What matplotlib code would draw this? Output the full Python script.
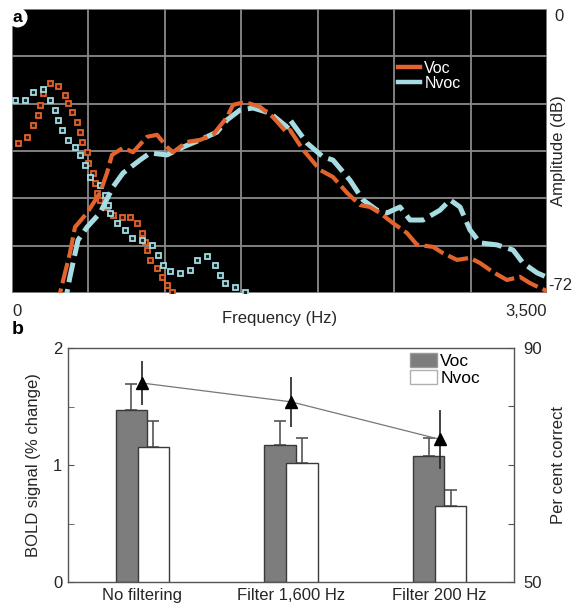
import numpy as np
import matplotlib
matplotlib.use("Agg")
import matplotlib.pyplot as plt
from matplotlib.lines import Line2D
from matplotlib.patches import Patch

plt.rcParams['font.family'] = ['Liberation Sans', 'DejaVu Sans']

# ---------------- Panel a data (Hz, dB) ----------------
voc_line_f = [290, 314, 379, 412, 491, 576, 621, 654, 726, 792, 883, 949, 1014, 1053, 1145, 1230,
              1315, 1407, 1446, 1524, 1622, 1707, 1799, 1819, 1904, 2015, 2100, 2192, 2277, 2342,
              2407, 2493, 2584, 2650, 2754, 2820, 2911, 2996, 3062, 3147, 3238, 3323, 3389, 3454, 3500]
voc_line_db = [-76, -72, -61.9, -55.3, -51.7, -46.6, -41.6, -37.0, -35.2, -36.3, -32.4, -31.9, -35.0,
               -36.3, -33.7, -33.2, -31.9, -27.4, -24.3, -23.6, -24.8, -27.4, -31.4, -30.7, -35.7,
               -40.8, -42.6, -46.6, -49.7, -50.2, -51.7, -54.3, -56.8, -59.8, -60.3, -61.9, -63.6,
               -63.1, -64.4, -66.7, -68.7, -67.9, -69.5, -70.7, -71.5]

nvoc_line_f = [340, 379, 432, 491, 576, 661, 726, 837, 903, 1014, 1119, 1230, 1341, 1407, 1492, 1577,
               1688, 1799, 1819, 1930, 2035, 2100, 2211, 2296, 2388, 2453, 2538, 2604, 2689, 2800,
               2866, 2931, 2996, 3062, 3173, 3278, 3343, 3435, 3500]
nvoc_line_db = [-76, -67.9, -58.6, -55.3, -51.7, -45.1, -41.6, -38.3, -36.5, -37.0, -35.0, -33.2,
                -31.2, -28.1, -25.6, -25.1, -26.4, -29.9, -28.1, -34.0, -37.5, -38.3, -43.4, -48.4,
                -51.0, -51.7, -50.2, -53.5, -53.5, -51.0, -48.4, -50.2, -56.0, -59.3, -59.8, -61.1,
                -64.4, -66.9, -68.0]

voc_sq_f = [39, 98, 137, 170, 183, 203, 249, 301, 347, 366, 393, 425, 445, 458, 491, 497, 530, 543,
            556, 576, 621, 661, 720, 772, 818, 850, 870, 883, 903, 949, 981, 1014, 1047]
voc_sq_db = [-34.0, -32.4, -29.4, -26.9, -24.3, -21.3, -18.8, -19.5, -21.8, -23.8, -26.1, -28.6,
             -31.2, -33.7, -36.3, -39.0, -41.6, -44.1, -46.6, -48.4, -50.2, -52.2, -52.7, -52.7,
             -54.3, -56.8, -59.1, -61.1, -63.6, -65.7, -67.9, -70.0, -71.7]

nvoc_sq_f = [20, 85, 137, 203, 249, 281, 301, 327, 366, 412, 445, 478, 510, 576, 608, 628, 641, 687,
             739, 785, 850, 916, 955, 988, 1034, 1099, 1164, 1210, 1276, 1328, 1361, 1393, 1459, 1524]
nvoc_sq_db = [-23.1, -23.1, -21.0, -20.3, -23.1, -25.6, -28.1, -30.7, -33.2, -35.0, -37.0, -39.5,
              -42.6, -44.6, -47.2, -49.7, -51.7, -54.3, -56.0, -58.1, -58.6, -59.8, -62.4, -64.9,
              -66.4, -66.9, -66.2, -63.6, -62.6, -64.9, -67.4, -69.5, -70.5, -71.7]

# ---------------- Panel b data ----------------
conditions = ['No filtering', 'Filter 1,600 Hz', 'Filter 200 Hz']
bold_voc = [1.47, 1.17, 1.08]
bold_voc_err = [0.22, 0.21, 0.15]
bold_nvoc = [1.155, 1.02, 0.65]
bold_nvoc_err = [0.22, 0.21, 0.14]
pct_correct = [84.0, 80.8, 74.4]
pct_err = [3.8, 4.3, 5.0]

ORANGE = '#e2642c'
BLUE = '#a6dce2'
TXT = '#262626'

fig = plt.figure(figsize=(5.76, 6.08), dpi=100)

# ================= Panel a =================
axa = fig.add_axes([12/576, 1-293/608, 535/576, 284/608])
axa.set_facecolor('black')
axa.set_xlim(0, 3500)
axa.set_ylim(-72, 0)
axa.set_xticks(np.arange(0, 3501, 500))
axa.set_yticks(np.arange(-72, 1, 12))
axa.grid(True, color='#8a8a8a', linewidth=1.3)
axa.set_axisbelow(True)
axa.tick_params(length=0, labelsize=12, colors=TXT)
xl = ['' for _ in range(8)]
xl[0] = '0'
xl[-1] = '3,500'
axa.set_xticklabels(xl)
axa.yaxis.tick_right()
yl = ['' for _ in range(7)]
yl[0] = '-72'
yl[-1] = '0'
axa.set_yticklabels(yl)
for lab in axa.get_xticklabels():
    if lab.get_text() == '0':
        lab.set_horizontalalignment('left')
    elif lab.get_text() == '3,500':
        lab.set_horizontalalignment('right')
for lab in axa.get_yticklabels():
    if lab.get_text() == '0':
        lab.set_verticalalignment('top')
        lab.set_x(1.012)
    elif lab.get_text() == '-72':
        lab.set_verticalalignment('bottom')
axa.tick_params(axis='x', pad=8)
axa.tick_params(axis='y', pad=1)
for s in axa.spines.values():
    s.set_visible(False)

axa.plot(voc_sq_f, voc_sq_db, linestyle='none', marker='s', markersize=3.6,
         mfc='#3a1508', mec=ORANGE, mew=1.3, clip_on=True, zorder=3)
axa.plot(nvoc_sq_f, nvoc_sq_db, linestyle='none', marker='s', markersize=3.6,
         mfc='#15282a', mec=BLUE, mew=1.3, clip_on=True, zorder=3)
axa.plot(nvoc_line_f, nvoc_line_db, color=BLUE, linewidth=3.6,
         linestyle=(0, (4, 1.4)), zorder=4)
axa.plot(voc_line_f, voc_line_db, color=ORANGE, linewidth=3.0,
         linestyle=(0, (5, 1.3)), zorder=5)

handles = [Line2D([], [], color=ORANGE, lw=3.2), Line2D([], [], color=BLUE, lw=3.2)]
leg = axa.legend(handles, ['Voc', 'Nvoc'], loc='upper left',
                 bbox_to_anchor=((398-12)/535, 1-(61-9)/284), frameon=False,
                 fontsize=11.5, handlelength=1.4, handletextpad=0.25, labelspacing=0.0,
                 borderpad=0, borderaxespad=0)
for t in leg.get_texts():
    t.set_color('white')

axa.set_xlabel('Frequency (Hz)', fontsize=12, color=TXT, labelpad=-6)
fig.text(559/576, 1-151/608, 'Amplitude (dB)', rotation=90, fontsize=12, color=TXT,
         ha='center', va='center')

axa.text(0.0105, 0.97, 'a', transform=axa.transAxes, ha='center', va='center',
         fontsize=12.5, fontweight='bold', color='black',
         bbox=dict(boxstyle='circle,pad=0.1', fc='white', ec='white'), zorder=10)

# ================= Panel b =================
axb = fig.add_axes([68/576, 1-582/608, 446/576, 234/608])
x = np.arange(len(conditions))
w = 0.21
off = 0.074
axb.bar(x - off, bold_voc, width=w, color='#7d7d7d', edgecolor='#3a3a3a', linewidth=1.0, zorder=2)
axb.errorbar(x - off, bold_voc, yerr=[np.zeros(3), bold_voc_err], fmt='none',
             ecolor='#555555', elinewidth=1.2, capsize=4, capthick=1.2, zorder=1)
axb.bar(x + off, bold_nvoc, width=w, color='white', edgecolor='#3a3a3a', linewidth=1.0, zorder=3)
axb.errorbar(x + off, bold_nvoc, yerr=[np.zeros(3), bold_nvoc_err], fmt='none',
             ecolor='#555555', elinewidth=1.2, capsize=4, capthick=1.2, zorder=1)
axb.set_xlim(-0.5, 2.5)
axb.set_ylim(0, 2)
axb.set_yticks([0, 1, 2])
axb.set_yticks([0.5, 1.5], minor=True)
axb.set_xticks(x)
axb.set_xticklabels(conditions)
axb.tick_params(axis='x', length=0, labelsize=12, pad=4, colors=TXT)
axb.tick_params(axis='y', which='both', direction='in', labelsize=12, colors='#555555',
                labelcolor=TXT, length=4, pad=4)
axb.set_ylabel('BOLD signal (% change)', fontsize=12, color=TXT, labelpad=9)
for s in axb.spines.values():
    s.set_color('#555555')
    s.set_linewidth(1.0)

legb = axb.legend([Patch(fc='#7d7d7d', ec='#9a9a9a'), Patch(fc='white', ec='#b0b0b0')],
                  ['Voc', 'Nvoc'], loc='upper left',
                  bbox_to_anchor=((410-68)/446, 1-(353-348)/234), frameon=False,
                  fontsize=12.5, handlelength=1.55, handleheight=0.9, handletextpad=0.2,
                  labelspacing=0.05, borderpad=0, borderaxespad=0)

axr = axb.twinx()
axr.set_ylim(50, 90)
axr.set_yticks([50, 60, 70, 80, 90])
axr.set_yticklabels(['50', '', '', '', '90'])
axr.tick_params(axis='y', direction='in', labelsize=12, colors='#555555',
                labelcolor=TXT, length=4, pad=7)
axr.set_ylabel('Per cent correct', fontsize=12, color=TXT, labelpad=6)
for s in axr.spines.values():
    s.set_visible(False)
axr.errorbar(x, pct_correct, yerr=pct_err, fmt='^-', color='black', markersize=9,
             ecolor='#222222', elinewidth=1.2, capsize=0, lw=0)
axr.plot(x, pct_correct, color='#777777', lw=0.9, zorder=1)

fig.text(18/576, 1-330/608, 'b', fontsize=14, fontweight='bold', ha='center', va='center')

fig.savefig('out.png', dpi=100)
